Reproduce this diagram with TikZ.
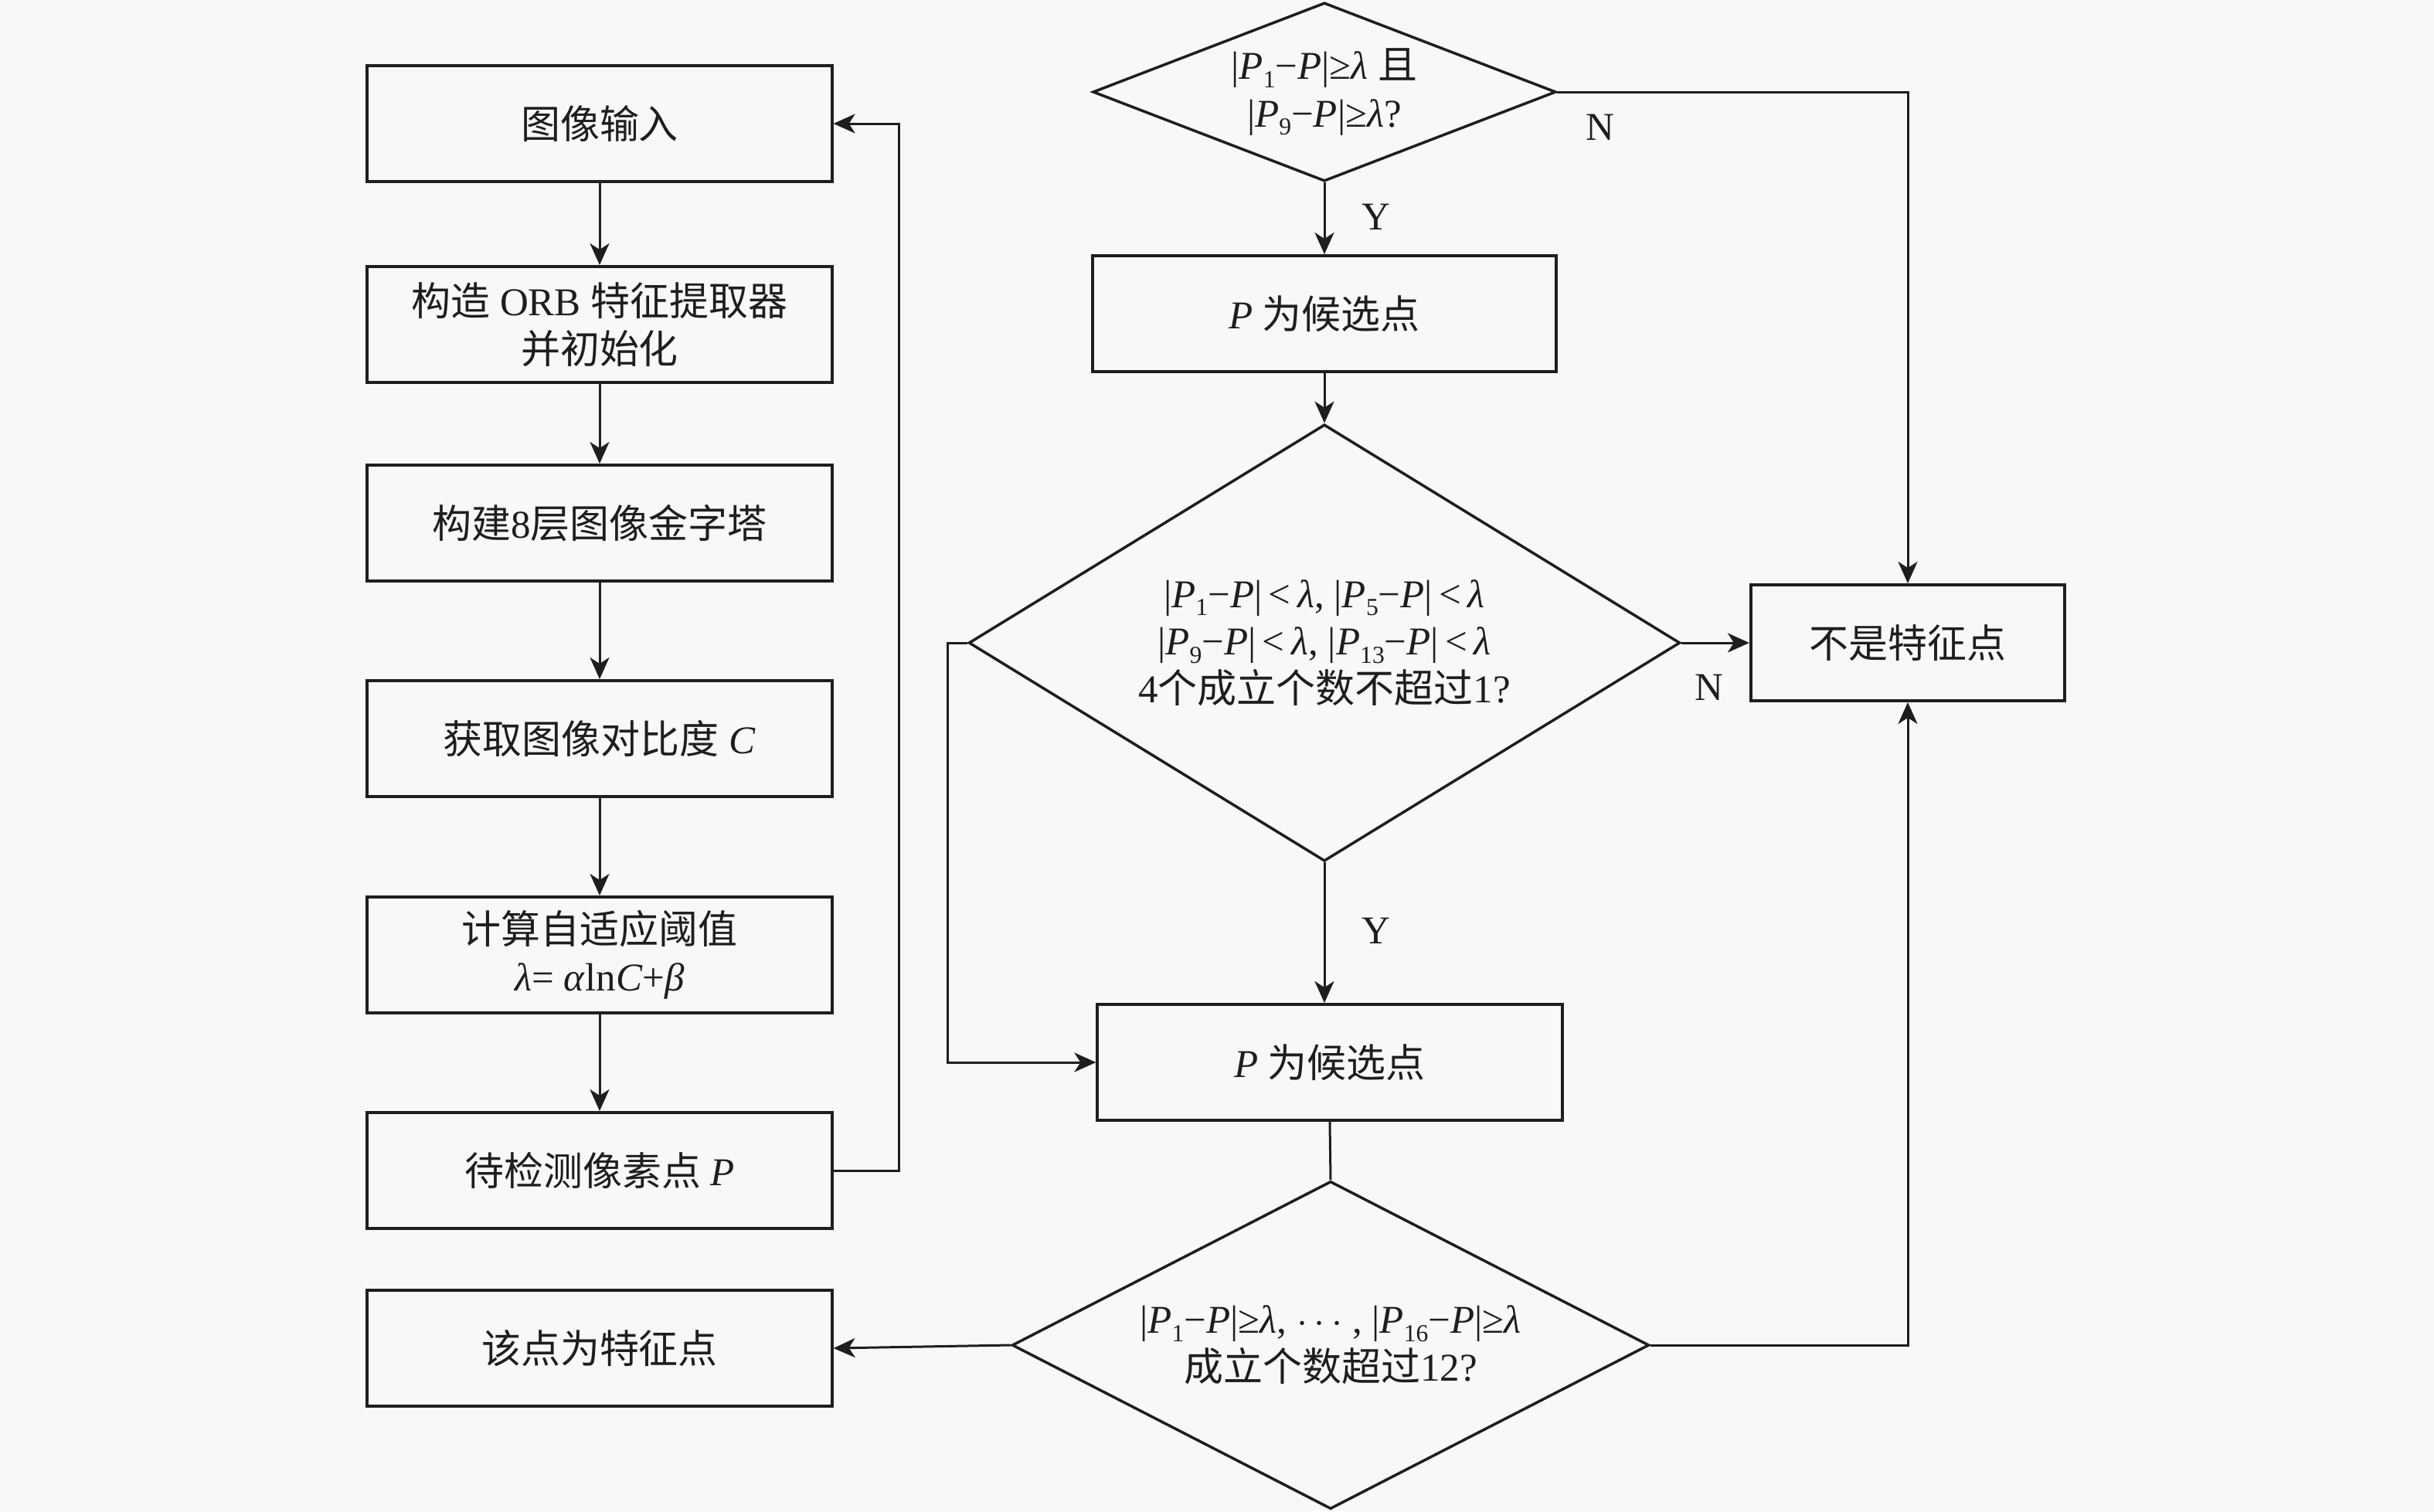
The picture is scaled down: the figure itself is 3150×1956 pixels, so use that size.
\documentclass[tikz,border=0pt]{standalone}
\usepackage{fontspec}
\setmainfont{Liberation Serif}
\newfontfamily\cjk{Noto Sans CJK SC}
\usetikzlibrary{shapes.geometric,arrows.meta}
\definecolor{bg}{RGB}{248,248,248}
\definecolor{ink}{RGB}{30,30,30}
\newcommand{\zh}[1]{{\cjk #1}}
\newcommand{\ip}{\textit{P}}
\newcommand{\lam}{\textit{λ}}
\newcommand{\sbs}[1]{\raisebox{-0.45ex}{\fontsize{9}{9}\selectfont #1}}
\newcommand{\ab}[1]{|\ip\sbs{#1}−\ip|}
\begin{document}
\begin{tikzpicture}[x=0.01cm,y=-0.01cm,
  every node/.style={text=ink, font=\fontsize{14.5}{17.5}\selectfont},
  box/.style={draw=ink, line width=1.1pt, fill=bg, minimum width=6.01cm, minimum height=1.5cm, align=center, inner sep=0pt},
  dia/.style={draw=ink, diamond, line width=1pt, fill=bg, align=center, inner sep=0pt},
  conn/.style={draw=ink, line width=0.85pt},
  arr/.style={conn, -{Stealth[length=0.28cm,width=0.25cm,inset=0.08cm]}},
  lbl/.style={inner sep=0pt}]
\fill[bg] (0,0) rectangle (3150,1956);
\useasboundingbox (0,0) rectangle (3150,1956);
% left column
\node[box] (b1) at (776,160) {\zh{图像输入}};
\node[box] (b2) at (776,420) {\zh{构造} ORB \zh{特征提取器}\\\zh{并初始化}};
\node[box] (b3) at (776,677) {\zh{构建}8\zh{层图像金字塔}};
\node[box] (b4) at (776,956) {\zh{获取图像对比度} \textit{C}};
\node[box] (b5) at (776,1236) {\zh{计算自适应阈值}\\\lam= \textit{α}ln\textit{C}+\textit{β}};
\node[box] (b6) at (776,1515) {\zh{待检测像素点} \ip};
\node[box] (b7) at (776,1745) {\zh{该点为特征点}};
% right column
\node[dia, aspect=2.59, minimum width=5.99cm, minimum height=2.31cm] (d1) at (1714,119) {\ab{1}≥\lam{} \zh{且}\\\ab{9}≥\lam?};
\node[box, minimum width=5.99cm] (c1) at (1714,406) {\ip{} \zh{为候选点}};
\node[dia, aspect=1.63, minimum width=9.2cm, minimum height=5.65cm] (d2) at (1714,832) {\ab{1}\,<\,\lam, \ab{5}\,<\,\lam\\\ab{9}\,<\,\lam, \ab{13}\,<\,\lam\\4\zh{个成立个数不超过}1?};
\node[box, minimum width=4.06cm] (nf) at (2469,832) {\zh{不是特征点}};
\node[box] (c2) at (1721,1375) {\ip{} \zh{为候选点}};
\node[dia, aspect=1.94, minimum width=8.24cm, minimum height=4.24cm] (d3) at (1722,1741) {\ab{1}≥\lam, $\cdots$ , \ab{16}≥\lam\\\zh{成立个数超过}12?};
% connectors left
\draw[arr] (b1) -- (b2);
\draw[arr] (b2) -- (b3);
\draw[arr] (b3) -- (b4);
\draw[arr] (b4) -- (b5);
\draw[arr] (b5) -- (b6);
\draw[arr] (b6.east) -- ++(85,0) |- (b1.east);
% connectors right
\draw[arr] (d1.south) -- (c1.north);
\draw[arr] (c1.south) -- (d2.north);
\draw[arr] (d2.south) -- (d2.south |- c2.north);
\draw[conn] (c2.south) -- (d3.north);
\draw[arr] (d1.east) -| (nf.north);
\draw[arr] (d2.east) -- (nf.west);
\draw[arr] (d3.east) -| (nf.south);
\draw[arr] (d2.west) -- ++(-25,0) |- (c2.west);
\draw[arr] (d3.west) -- (b7.east);
% labels
\node[lbl] (n1) at (2071,165) {N};
\node[lbl] (y1) at (1781,281) {Y};
\node[lbl] (n2) at (2212,890) {N};
\node[lbl] (y2) at (1781,1205) {Y};
\end{tikzpicture}
\end{document}
